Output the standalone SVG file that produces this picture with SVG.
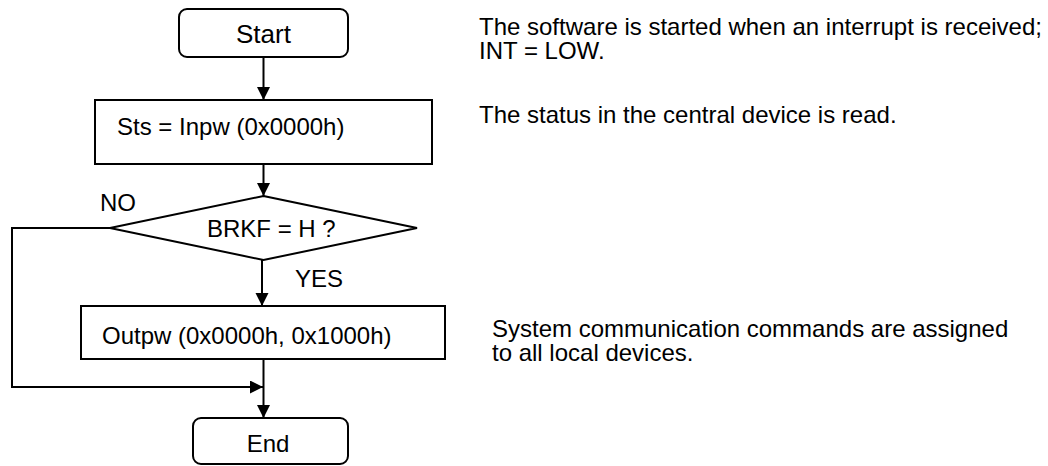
<svg xmlns="http://www.w3.org/2000/svg" width="1048" height="466" viewBox="0 0 1048 466">
<style>
text{font-family:"Liberation Sans",Arial,sans-serif;font-size:24px;fill:#000}
.big{font-size:26px}
.box{fill:#fff;stroke:#000;stroke-width:2}
.ln{fill:none;stroke:#000;stroke-width:2}
</style>
<defs>
<marker id="ah" markerWidth="14" markerHeight="14" refX="13" refY="6.5" orient="auto" markerUnits="userSpaceOnUse">
<path d="M0,0 L13,6.5 L0,13 Z" fill="#000"/>
</marker>
</defs>
<rect width="1048" height="466" fill="#fff"/>
<g id="connectors">
<line class="ln" x1="263.5" y1="57" x2="263.5" y2="100" marker-end="url(#ah)"/>
<line class="ln" x1="263.5" y1="164" x2="263.5" y2="196" marker-end="url(#ah)"/>
<line class="ln" x1="262" y1="260" x2="262" y2="306" marker-end="url(#ah)"/>
<polyline class="ln" points="110,228 12,228 12,387 263,387" marker-end="url(#ah)"/>
<line class="ln" x1="263.5" y1="359" x2="263.5" y2="418" marker-end="url(#ah)"/>
</g>
<g id="start">
<rect class="box" x="179" y="9" width="169" height="48" rx="8"/>
<text class="big" x="263.5" y="43" text-anchor="middle">Start</text>
</g>
<g id="sts">
<rect class="box" x="95" y="100" width="337" height="64"/>
<text x="117" y="135">Sts = Inpw (0x0000h)</text>
</g>
<g id="decision">
<polygon class="box" points="263.5,196 417,228 263.5,260 110,228"/>
<text x="207" y="237">BRKF = H ?</text>
<text x="100" y="211">NO</text>
<text x="295" y="287">YES</text>
</g>
<g id="outpw">
<rect class="box" x="81" y="306" width="364" height="53"/>
<text x="102" y="344">Outpw (0x0000h, 0x1000h)</text>
</g>
<g id="end">
<rect class="box" x="193" y="418" width="155" height="46" rx="8"/>
<text x="268" y="452" text-anchor="middle">End</text>
</g>
<g id="notes">
<text x="479" y="35">The software is started when an interrupt is received;</text>
<text x="479" y="59">INT = LOW.</text>
<text x="479" y="123">The status in the central device is read.</text>
<text x="492" y="337">System communication commands are assigned</text>
<text x="492" y="361">to all local devices.</text>
</g>
</svg>
